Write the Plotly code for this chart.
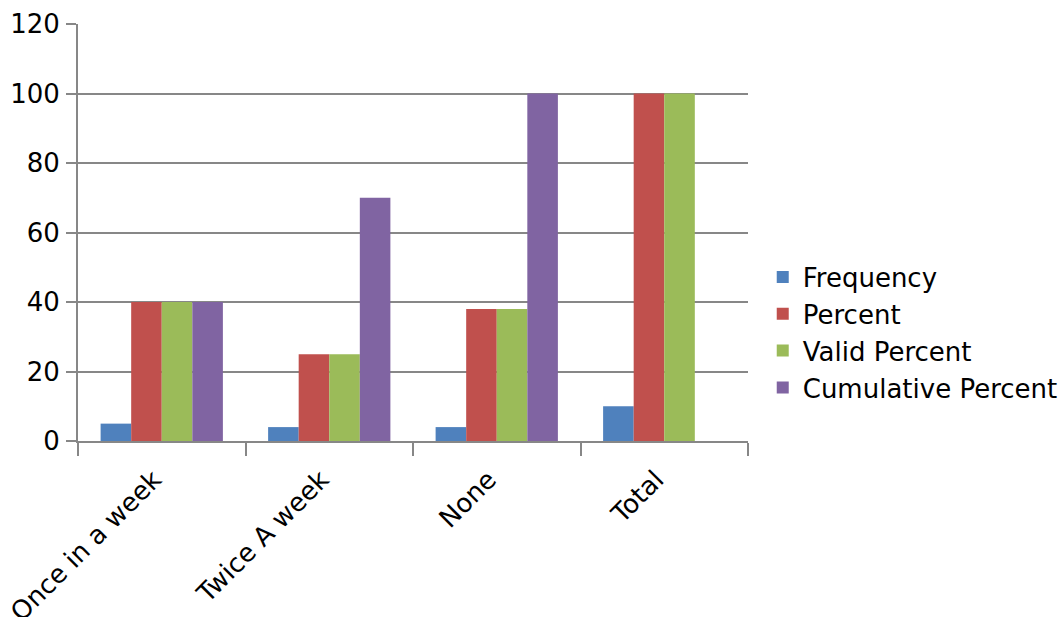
import plotly.graph_objects as go

categories = ["Once in a week", "Twice A week", "None", "Total"]
frequency = [5, 4, 4, 10]
percent = [40, 25, 38, 100]
valid_percent = [40, 25, 38, 100]
cumulative_percent = [40, 70, 100, None]

series = [
    ("Frequency", frequency, "#4F81BD"),
    ("Percent", percent, "#C0504D"),
    ("Valid Percent", valid_percent, "#9BBB59"),
    ("Cumulative Percent", cumulative_percent, "#8064A2"),
]

fig = go.Figure()
for name, vals, color in series:
    fig.add_trace(go.Bar(x=categories, y=vals, name=name, marker_color=color,
                         marker_line_width=0))

axis_gray = "#878787"
fig.update_layout(
    width=1062, height=617,
    margin=dict(l=78, r=314, t=24, b=176, autoexpand=False),
    paper_bgcolor="white", plot_bgcolor="white",
    barmode="group", bargap=0.27, bargroupgap=0,
    font=dict(family="DejaVu Sans", size=26, color="black"),
    legend=dict(x=1.022, y=0.26, yanchor="middle", xanchor="left",
                font=dict(size=26), tracegroupgap=0,
                bgcolor="rgba(0,0,0,0)"),
    showlegend=True,
)
fig.update_xaxes(
    tickangle=-45, showline=True, linecolor=axis_gray, linewidth=2,
    ticks="outside", tickson="boundaries", ticklen=13, tickcolor=axis_gray,
    tickwidth=2, showgrid=False, tickfont=dict(size=26), automargin=False,
    ticklabelstandoff=11, ticklabelshift=-8,
)
fig.update_yaxes(
    range=[0, 120], dtick=20, showline=True, linecolor=axis_gray, linewidth=2,
    ticks="outside", ticklen=10, tickcolor=axis_gray, tickwidth=2,
    showgrid=True, gridcolor=axis_gray, gridwidth=1.5, zeroline=False,
    tickfont=dict(size=26), ticklabelstandoff=1, automargin=False,
)

fig.write_html("out.html")
